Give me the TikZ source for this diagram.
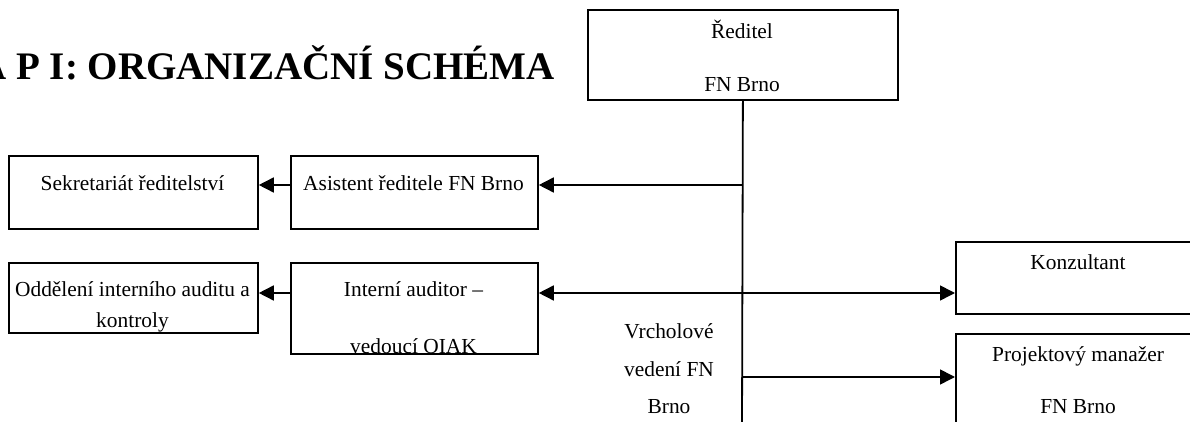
\documentclass[tikz,border=0pt]{standalone}
\usepackage{fontspec}
\setmainfont{Liberation Serif}
\usetikzlibrary{arrows.meta}
\begin{document}
\begin{tikzpicture}[x=0.5pt,y=-0.5pt,
  box/.style={draw, line width=0.9pt, inner sep=0pt, anchor=north west},
  txt/.style={anchor=base, inner sep=0pt, font=\fontsize{10.7pt}{12pt}\selectfont},
  ttl/.style={anchor=base west, inner sep=0pt, font=\fontsize{19.5pt}{21pt}\selectfont\bfseries},
  conn/.style={line width=0.8pt, -{Triangle[length=7.5pt,width=7.5pt]}},
  biconn/.style={line width=0.8pt, {Triangle[length=7.5pt,width=7.5pt]}-{Triangle[length=7.5pt,width=7.5pt]}},
  vline/.style={line width=0.9pt}
]
\useasboundingbox (0,0) rectangle (1190,422);
\clip (0,0) rectangle (1190,422);

% title
\node[ttl] (title) at (-22,80) {A P I: ORGANIZAČNÍ SCHÉMA};

% boxes
\node[box, minimum width=155pt, minimum height=45pt] (reditel) at (587,9) {};
\node[box, minimum width=124.5pt, minimum height=36.5pt] (sekr) at (8,155) {};
\node[box, minimum width=123.5pt, minimum height=36.5pt] (asist) at (290,155) {};
\node[box, minimum width=124.5pt, minimum height=35pt] (odd) at (8,262) {};
\node[box, minimum width=123.5pt, minimum height=45.5pt] (interni) at (290,262) {};
\node[box, minimum width=123pt, minimum height=36pt] (konz) at (955,241) {};
\node[box, minimum width=123pt, minimum height=55pt] (proj) at (955,333) {};

% texts
\node[txt] (t-red1) at (742,39) {Ředitel};
\node[txt] (t-red2) at (742,92) {FN Brno};
\node[txt] (t-sekr) at (132.5,191) {Sekretariát ředitelství};
\node[txt] (t-asist) at (413.5,191) {Asistent ředitele FN Brno};
\node[txt] (t-odd1) at (132.5,297) {Oddělení interního auditu a};
\node[txt] (t-odd2) at (132.5,328) {kontroly};
\node[txt] (t-int1) at (413.5,297) {Interní auditor –};
\node[txt] (t-int2) at (413.5,354) {vedoucí OIAK};
\node[txt] (t-vrch1) at (669,339) {Vrcholové};
\node[txt] (t-vrch2) at (669,377) {vedení FN};
\node[txt] (t-vrch3) at (669,414) {Brno};
\node[txt] (t-konz) at (1078,270) {Konzultant};
\node[txt] (t-proj1) at (1078,362) {Projektový manažer};
\node[txt] (t-proj2) at (1078,414) {FN Brno};

% connectors
\coordinate (vbot) at (742,430);
\coordinate (j1) at (742,185);
\coordinate (j2) at (742,293);
\coordinate (j3) at (742,377);
\draw[vline] (reditel.south) -- (vbot);
\draw[conn] (j1) -- (j1 -| asist.east);
\draw[conn] (j1 -| asist.west) -- (j1 -| sekr.east);
\draw[biconn] (j2 -| interni.east) -- (j2 -| konz.west);
\draw[conn] (j2 -| interni.west) -- (j2 -| odd.east);
\draw[conn] (j3) -- (j3 -| proj.west);
\end{tikzpicture}
\end{document}
